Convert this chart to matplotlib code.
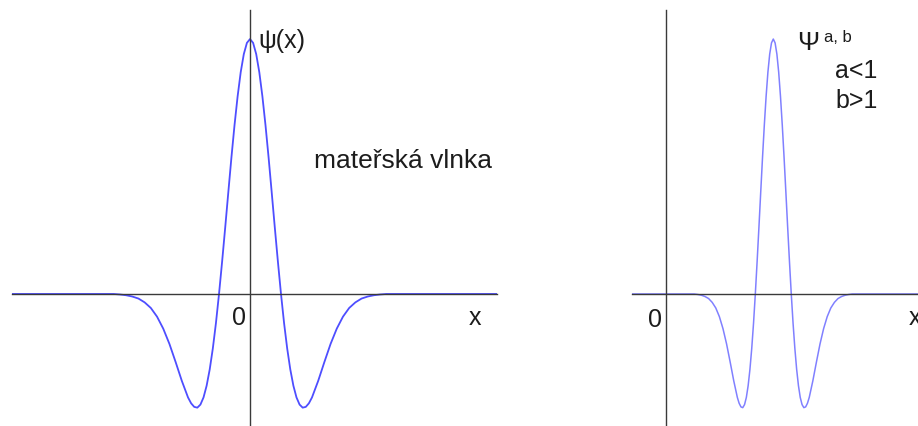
"""Mother wavelet psi(x) and its scaled/shifted version psi^{a,b}."""
import matplotlib
matplotlib.use("Agg")
import matplotlib.pyplot as plt
import numpy as np

plt.rcParams["font.family"] = ["Liberation Sans", "DejaVu Sans"]

INK = "#1c1c1c"
AXIS = "#3a3a3a"
BLUE = "#2f2fff"
BLUE_LIGHT = "#6a6aff"

# wavelet samples (t >= 0 half, curve is symmetric)
t_half = [0.0, 0.1, 0.2, 0.3, 0.4, 0.5, 0.6, 0.7, 0.8, 0.9, 1.0, 1.1, 1.2, 1.3,
          1.4, 1.5, 1.6, 1.7, 1.8, 1.9, 2.0, 2.2, 2.4, 2.6, 2.8, 3.0, 3.2, 3.4,
          3.6, 3.8, 4.0, 4.2, 4.4, 9.0]
psi_half = [1.000, 0.985, 0.941, 0.870, 0.775, 0.662, 0.535, 0.399, 0.261, 0.127,
            0.000, -0.115, -0.214, -0.296, -0.360, -0.406, -0.434, -0.446, -0.443,
            -0.429, -0.406, -0.341, -0.267, -0.196, -0.136, -0.089, -0.055, -0.033,
            -0.018, -0.010, -0.005, -0.002, 0.000, 0.000]

# scale (a) and shift (b) of the right-hand wavelet, in left-panel units
A_SCALE = 0.58
B_SHIFT = 3.46

t = np.array(t_half)
p = np.array(psi_half)
t_full = np.concatenate([-t[::-1], t[1:]])
p_full = np.concatenate([p[::-1], p[1:]])

W, H = 918, 427
fig = plt.figure(figsize=(W / 100, H / 100), dpi=100)
fig.patch.set_facecolor("white")

YLIM = (-0.518, 1.114)
ax1 = fig.add_axes([12 / W, 0, 485 / W, 416 / H])
ax2 = fig.add_axes([632 / W, 0, 286 / W, 416 / H])
ax1.set_xlim(-7.68, 7.97)
ax2.set_xlim(-1.10, 8.13)

for ax in (ax1, ax2):
    ax.set_ylim(*YLIM)
    ax.patch.set_alpha(0)
    for s in ["top", "right"]:
        ax.spines[s].set_visible(False)
    for s in ["left", "bottom"]:
        ax.spines[s].set_position("zero")
        ax.spines[s].set_color(AXIS)
        ax.spines[s].set_linewidth(1.0)
    ax.set_xticks([])
    ax.set_yticks([])

ax1.plot(t_full, p_full, color=BLUE, linewidth=1.3, alpha=0.85, solid_joinstyle="round")
ax2.plot(B_SHIFT + A_SCALE * t_full, p_full, color=BLUE_LIGHT, linewidth=1.1, alpha=0.85,
         solid_joinstyle="round")

FS = 18
ax1.text(0.26, 0.996, "ψ(x)", fontsize=FS, color=INK, ha="left", va="center")
ax1.text(2.06, 0.50, "mateřská vlnka", fontsize=19, color=INK, ha="left", va="baseline")
ax1.text(-0.37, -0.118, "0", fontsize=FS, color=INK, ha="center", va="baseline")
ax1.text(7.26, -0.118, "x", fontsize=FS, color=INK, ha="center", va="baseline")

ax2.text(-0.37, -0.125, "0", fontsize=FS, color=INK, ha="center", va="baseline")
ax2.text(7.84, -0.118, "x", fontsize=FS, color=INK, ha="left", va="baseline", clip_on=False)
ax2.text(4.23, 0.961, "Ψ", fontsize=19, color=INK, ha="left", va="baseline")
ax2.text(5.10, 0.992, "a, b", fontsize=12, color=INK, ha="left", va="baseline")
ax2.text(5.45, 0.851, "a<1", fontsize=FS, color=INK, ha="left", va="baseline")
ax2.text(5.45, 0.733, "b>1", fontsize=FS, color=INK, ha="left", va="baseline")

fig.savefig("out.png", dpi=100, facecolor="white")
print("saved out.png")
